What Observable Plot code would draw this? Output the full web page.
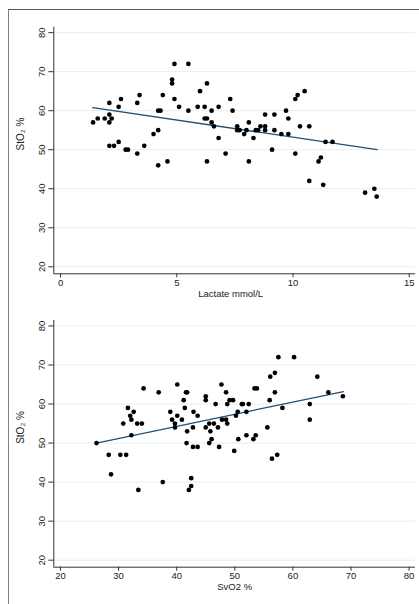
<!DOCTYPE html>
<html><head><meta charset="utf-8">
<script src="https://cdn.jsdelivr.net/npm/d3@7"></script>
<script src="https://cdn.jsdelivr.net/npm/@observablehq/plot@0.6"></script>
<style>
body{margin:0;background:#fff;width:419px;height:604px;overflow:hidden;position:relative;font-family:"Liberation Sans",Arial,sans-serif}
#frame{position:absolute;left:8px;top:9px;width:600px;height:700px;border-left:1px solid #808080;border-top:1.5px solid #555}
.panel{position:absolute;left:0}
.panel svg{overflow:visible}
</style></head><body>
<div id="frame"></div>
<div id="p1" class="panel" style="top:0"></div>
<div id="p2" class="panel" style="top:300px"></div>
<script>
// Panel 1: lactate vs StO2
const lactate = [1.4,1.6,1.9,2.1,2.1,2.2,2.1,2.1,2.3,2.5,2.5,2.6,2.8,2.9,3.3,3.4,3.3,3.6,4.0,4.2,4.2,4.3,4.4,4.2,4.6,4.8,4.8,4.9,4.9,5.1,5.5,5.5,5.9,6.0,6.2,6.2,6.3,6.3,6.3,6.5,6.5,6.6,6.8,6.8,7.1,7.3,7.4,7.6,7.6,7.7,7.9,8.0,8.1,8.1,8.3,8.4,8.5,8.6,8.8,8.8,8.8,9.1,9.2,9.2,9.5,9.7,9.8,9.8,10.1,10.2,10.5,10.3,10.7,10.1,10.7,11.1,11.2,11.3,11.4,11.7,13.1,13.5,13.6];
const sto2Lactate = [57,58,58,62,59,58,57,51,51,52,61,63,50,50,62,64,49,51,54,55,60,60,64,46,47,68,67,72,63,61,72,60,61,65,61,58,58,67,47,60,57,56,61,53,49,63,60,56,55,55,54,55,57,47,53,55,55,56,56,55,59,50,59,55,54,60,58,54,63,64,65,56,56,49,42,47,48,41,52,52,39,40,38];
const lactateFitX = [1.39, 13.62];
const lactateFitY = [60.8, 50.0];
const lactateTicks = [0, 5, 10, 15];
const lactateDomain = [-0.29, 15.27];
const lactateLabel = "Lactate mmol/L";

// Panel 2: SvO2 vs StO2
const svo2 = [26.2,30.8,31.6,32.0,32.2,32.2,32.6,33.2,34.0,34.3,36.9,38.9,39.2,39.7,39.7,40.1,40.1,40.9,41.2,41.4,41.6,41.8,41.8,42.9,42.8,43.6,45.0,45.0,45.0,45.6,45.8,46.0,46.7,46.4,47.1,47.7,47.8,48.5,48.5,48.7,48.7,49.1,49.7,50.2,50.5,50.6,51.2,51.4,52.0,52.0,52.4,53.2,53.4,53.8,53.6,55.6,56.0,56.1,56.9,56.9,57.5,58.2,60.2,62.9,62.9,64.2,66.1,68.6,28.3,28.7,30.3,31.3,33.4,37.6,41.7,42.1,42.5,42.5,42.8,43.6,45.6,47.3,49.9,56.4,57.3];
const sto2Svo2 = [50,55,59,57,56,52,58,55,55,64,63,58,56,55,54,65,57,56,61,59,63,63,53,58,54,57,62,61,54,55,53,51,60,55,54,65,56,63,56,55,60,61,61,57,58,51,60,60,58,52,60,51,64,64,52,54,61,67,68,63,72,59,72,60,56,67,63,62,47,42,47,47,38,40,50,38,39,41,49,49,50,49,48,46,47];
const svo2FitX = [26.2, 68.7];
const svo2FitY = [50.0, 63.2];
const svo2Ticks = [20, 30, 40, 50, 60, 70, 80];
const svo2Domain = [18.85, 81.1];
const svo2Label = "SvO2 %";

const yTicks = [20, 30, 40, 50, 60, 70, 80];
const yDomain = [18.2, 81.4];
const yLabel = "StO₂ %";

function panel({xs, ys, fitX, fitY, xTicks, xDomain, xLabel, height, marginTop, marginBottom, labelDx}) {
  const pts = xs.map((x, i) => ({x, y: ys[i]}));
  const fit = fitX.map((x, i) => ({x, y: fitY[i]}));
  return Plot.plot({
    width: 419, height, marginLeft: 53.3, marginRight: 4, marginTop, marginBottom,
    x: {domain: xDomain},
    y: {domain: yDomain},
    style: {fontFamily: '"Liberation Sans", Arial, sans-serif', fontSize: "9.5px", color: "#222", background: "transparent"},
    marks: [
      Plot.gridY(yTicks, {stroke: "#e4eef0", strokeOpacity: 1, strokeWidth: 1}),
      Plot.ruleX([xDomain[0]], {stroke: "#333", strokeWidth: 1}),
      Plot.ruleY([yDomain[0]], {stroke: "#333", strokeWidth: 1}),
      Plot.axisY(yTicks, {tickSize: 5, tickRotate: -90, label: null, stroke: "#333"}),
      Plot.axisX(xTicks, {tickSize: 4, tickPadding: 1.5, label: null, stroke: "#333"}),
      Plot.line(fit, {x: "x", y: "y", stroke: "#1f4e78", strokeWidth: 1.3}),
      Plot.dot(pts, {x: "x", y: "y", r: 2.35, fill: "#000", stroke: "none"}),
      Plot.text([xLabel], {text: d => d, frameAnchor: "bottom", dy: 23, dx: labelDx, fontSize: 9.5}),
      Plot.text([yLabel], {text: d => d, frameAnchor: "left", dx: -33, rotate: -90, fontSize: 10})
    ]
  });
}

document.getElementById("p1").append(panel({
  xs: lactate, ys: sto2Lactate, fitX: lactateFitX, fitY: lactateFitY,
  xTicks: lactateTicks, xDomain: lactateDomain, xLabel: lactateLabel,
  height: 300, marginTop: 26.7, marginBottom: 26.7, labelDx: -4
}));
document.getElementById("p2").append(panel({
  xs: svo2, ys: sto2Svo2, fitX: svo2FitX, fitY: svo2FitY,
  xTicks: svo2Ticks, xDomain: svo2Domain, xLabel: svo2Label,
  height: 304, marginTop: 20, marginBottom: 37.3, labelDx: 0
}));
</script>
</body></html>
